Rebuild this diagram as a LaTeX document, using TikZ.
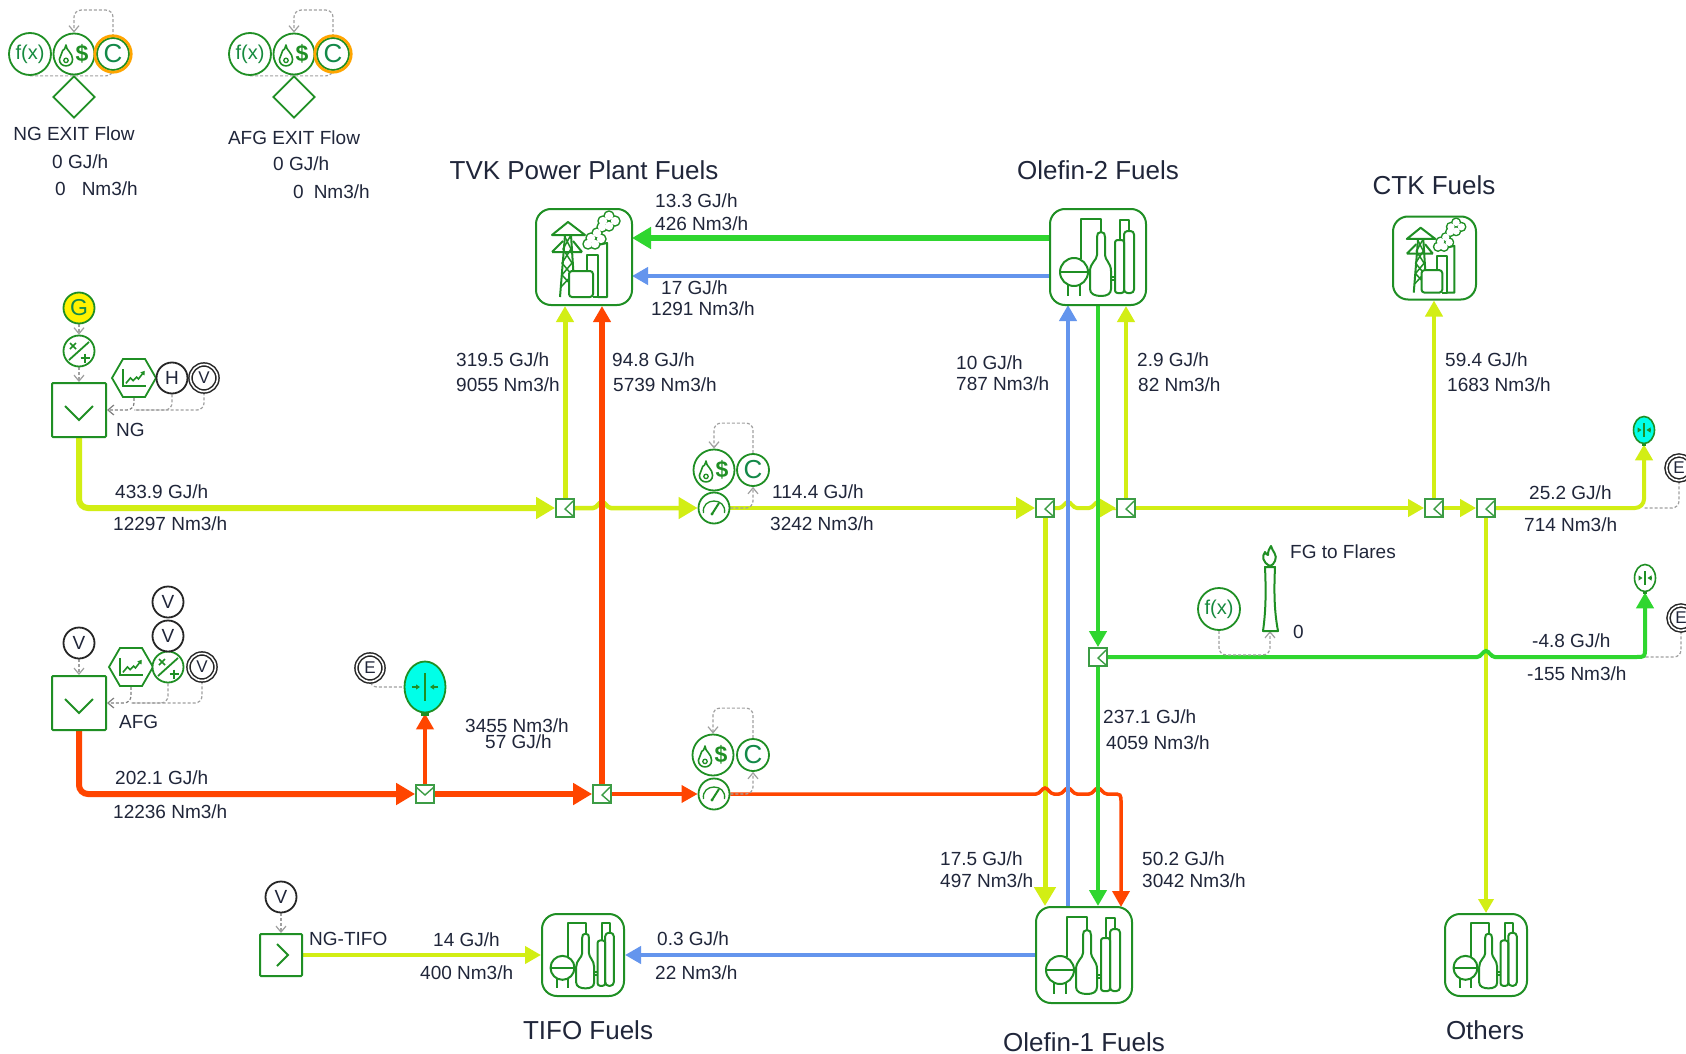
\documentclass[tikz,border=0pt]{standalone}
\usepackage{fontspec}
\setmainfont{Liberation Sans}
\usetikzlibrary{arrows.meta,shapes.geometric,backgrounds}
\definecolor{plant}{HTML}{1F8F24}
\definecolor{splitc}{HTML}{3C9C45}
\definecolor{ylw}{HTML}{D2EE14}
\definecolor{red2}{HTML}{FF4500}
\definecolor{grn}{HTML}{2FD62F}
\definecolor{blu}{HTML}{6495ED}
\definecolor{ink}{HTML}{20263A}
\definecolor{ringo}{HTML}{FFA500}
\definecolor{dashg}{HTML}{A0A0A0}
\definecolor{cyanv}{HTML}{00FFE8}
\newcommand{\labfont}{\fontsize{19}{21}\selectfont}
\newcommand{\titfont}{\fontsize{26}{28}\selectfont}
\newcommand{\hopat}[2]{-- (#1-9,#2) .. controls (#1-5,#2) and (#1-3,#2-6) .. (#1,#2-6) .. controls (#1+3,#2-6) and (#1+5,#2) .. (#1+9,#2)}
\newcommand{\lb}[4]{\node[lbl] (#1) at (#2,#3) {#4};}
\tikzset{
  lbl/.style={font=\labfont,text=ink,inner sep=0pt,anchor=west,text height=12pt,text depth=0pt},
  clab/.style={lbl,anchor=center},
  tit/.style={font=\titfont,text=ink,inner sep=0pt,anchor=center},
  unitbox/.style={draw=plant,line width=2pt,rounded corners=15pt,minimum size=#1,inner sep=0pt,fill=white},
  srcbox/.style={draw=plant,line width=2pt,rounded corners=1pt,minimum size=#1,inner sep=0pt,fill=white},
  splitbox/.style={draw=splitc,line width=1.8pt,minimum size=18pt,inner sep=0pt,fill=white},
  gcirc/.style={circle,draw=plant,line width=1.8pt,inner sep=0pt,minimum size=#1,fill=white,text=plant},
  kcirc/.style={circle,draw=black!85,line width=1.8pt,inner sep=0pt,minimum size=#1,fill=white,text=ink,font=\fontsize{19}{20}\selectfont},
  dcirc/.style={circle,draw=black!85,line width=1.5pt,double=white,double distance=1.6pt,inner sep=0pt,minimum size=#1,fill=white,text=ink,font=\fontsize{17}{18}\selectfont},
  fxc/.style={gcirc=42pt,font=\fontsize{20}{22}\selectfont,text=plant!70!teal},
  cstc/.style={gcirc=#1,font=\fontsize{26}{28}\selectfont,text=plant!60!teal},
  dolc/.style={gcirc=41pt,font=\bfseries\fontsize{23}{24}\selectfont},
  hexn/.style={regular polygon,regular polygon sides=6,draw=plant,line width=1.8pt,minimum size=44pt,inner sep=0pt,fill=white},
  icon/.style={draw=plant,line width=2pt,line join=round},
  bigtip/.style={-{Triangle[length=19pt,width=21pt]}},
  midtip/.style={-{Triangle[length=16pt,width=17pt]}},
  smalltip/.style={-{Triangle[length=14pt,width=15pt]}},
  flowy/.style={draw=ylw,line width=#1,rounded corners=9pt},
  flowr/.style={draw=red2,line width=#1,rounded corners=9pt},
  flowg/.style={draw=grn,line width=#1,rounded corners=9pt},
  flowb/.style={draw=blu,line width=#1},
  dashc/.style={draw=dashg,line width=1.2pt,dash pattern=on 3pt off 2pt,rounded corners=7pt,-{Straight Barb[length=6pt,width=10pt]}},
  dashn/.style={draw=dashg,line width=1.2pt,dash pattern=on 3pt off 2pt,rounded corners=7pt},
  refinery/.pic={
    \draw[icon] (-24,15) circle (14);
    \draw[icon] (-38,15)--(-10,15) (-30,28)--(-30,39) (-18,28)--(-18,39);
    \draw[icon] (-17,2)--(-17,-38)--(3,-38)--(3,-25);
    \draw[icon] (3,-25) .. controls (0,-25) and (-1,-23) .. (-1,-20) -- (-1,-2) .. controls (-1,3) and (-8,6) .. (-8,14) -- (-8,32) .. controls (-8,37) and (-3,39) .. (3,39) .. controls (9,39) and (13,37) .. (13,32) -- (13,14) .. controls (13,6) and (7,3) .. (7,-2) -- (7,-20) .. controls (7,-23) and (6,-25) .. (3,-25) -- cycle;
    \draw[icon] (13,20)--(17,20) (13,23)--(17,23);
    \draw[icon] (22,-17)--(22,-37)--(31,-37)--(31,-26);
    \draw[icon,rounded corners=2.5pt] (17,-17) rectangle (26,36);
    \draw[icon,rounded corners=3.5pt] (26,-26) rectangle (36,36);
  },
  powerplant/.pic={
    \draw[icon] (-24,40)--(-19,-22) (-9,40)--(-13,-22);
    \draw[icon] (-32,-22)--(-16,-35)--(1,-22)--cycle;
    \draw[icon] (-32,-5)--(-21,-16) (-2,-5)--(-11,-16) (-32,-5)--(-2,-5);
    \draw[icon,line width=1.5pt] (-23,30)--(-12,18)--(-22,6)--(-13,-8)--(-20,-22) (-11,30)--(-22,18)--(-12,6)--(-21,-8)--(-13,-22);
    \draw[icon,fill=white,rounded corners=3pt] (-15,40)--(-15,14)--(9,14)--(9,40)--cycle;
    \draw[icon] (3,14)--(3,-2)--(14,-2)--(14,40)--(9,40);
    \draw[icon] (14,-12)--(23,-14)--(23,40)--(14,40);
    \foreach \p/\q in {19/-36,25/-41,31/-36,25/-31,18/-30,7/-19,13/-24,17/-18,11/-13,4/-13}
      \draw[icon,line width=2.6pt] (\p,\q) circle (4.4);
    \foreach \p/\q in {19/-36,25/-41,31/-36,25/-31,18/-30,7/-19,13/-24,17/-18,11/-13,4/-13}
      \fill[white] (\p,\q) circle (4.2);
  },
  flameic/.pic={
    \draw[draw=plant,line width=1.6pt,line join=round] (0,-10) .. controls (0,-5) and (6,-3) .. (6,3) .. controls (6,7) and (3,9) .. (0,9) .. controls (-3,9) and (-6,7) .. (-6,3) .. controls (-6,0) and (-3,-2) .. (-3,-5) .. controls (-1.5,-5) and (-1,-7) .. (0,-10) -- cycle;
    \draw[draw=plant,line width=1.3pt] (0,4) circle (2);
  },
  trendic/.pic={
    \draw[draw=plant,line width=1.6pt] (-12,-10)--(-12,9)--(13,9);
    \draw[draw=plant,line width=1.6pt,-{Triangle[length=4pt,width=5pt]}] (-9,6)--(-4,0)--(-1,3)--(3,-1)--(5,1)--(12,-8);
  },
  muldiv/.pic={
    \draw[draw=plant,line width=1.8pt] (-10,9)--(10,-9);
    \draw[draw=plant,line width=1.6pt] (-9,-8)--(-3,-2) (-9,-2)--(-3,-8);
    \draw[draw=plant,line width=1.6pt] (1.5,7)--(11,7) (6,2.5)--(6,11.5);
  },
  gaugeic/.pic={
    \draw[draw=plant,line width=1.3pt] (-10.5,5) .. controls (-13,-11) and (13,-11) .. (10.5,5);
    \draw[draw=plant,line width=2pt] (-2,6)--(5,-5);
    \fill[plant] (-2,6) circle (1.6);
  },
  valveic/.pic={
    \draw[draw=plant,line width=2.6pt] (0,-14)--(0,14);
    \draw[draw=plant,line width=1.5pt,-{Triangle[length=4pt,width=5pt]}] (-13,0)--(-5,0);
    \draw[draw=plant,line width=1.5pt,-{Triangle[length=4pt,width=5pt]}] (13,0)--(5,0);
  },
  splitl/.pic={\draw[draw=splitc,line width=1.4pt] (8,-7)--(0,1)--(8,8);},
  splitv/.pic={\draw[draw=splitc,line width=1.4pt] (-9,-7)--(0,1)--(9,-7);},
}
\begin{document}
\begin{tikzpicture}[x=1pt,y=-1pt]
\useasboundingbox (0,0) rectangle (1686,1054);
% ---- units
\node[unitbox=96pt] (tvk) at (584,257) {};
\node[unitbox=96pt] (ol2) at (1098,257) {};
\node[unitbox=83pt] (ctk) at (1434.5,258) {};
\node[unitbox=82pt] (tifo) at (583,955) {};
\node[unitbox=96pt] (ol1) at (1084,955) {};
\node[unitbox=82pt] (oth) at (1486,955) {};
\pic at (tvk) {powerplant};
\pic[scale=.865] at (ctk) {powerplant};
\pic at (ol2) {refinery};
\pic at (ol1) {refinery};
\pic[scale=.855] at (tifo) {refinery};
\pic[scale=.855] at (oth) {refinery};
% ---- NG exit group
\node[fxc] (ngf) at (30,54) {f(x)};
\node[dolc] (ngd) at (74,54) {\kern16pt\$};
\pic[scale=1.1] at (66,56) {flameic};
\node[cstc=32pt] (ngc) at (113,54) {C};
\draw[draw=ringo,line width=2.8pt] (ngc) circle (18.2pt);
\node[diamond,draw=plant,line width=1.8pt,minimum size=42pt,inner sep=0pt] (ngx) at (74,97) {};
\node[anchor=center,clab] (t1) at (74,134) {NG EXIT Flow};
\lb{t2}{52}{162}{0 GJ/h}
\lb{t3}{55}{189}{0\hspace*{16pt}Nm3/h}
% ---- AFG exit group
\node[fxc] (af) at (250,54) {f(x)};
\node[dolc] (ad) at (294,54) {\kern16pt\$};
\pic[scale=1.1] at (286,56) {flameic};
\node[cstc=32pt] (ac) at (333,54) {C};
\draw[draw=ringo,line width=2.8pt] (ac) circle (18.2pt);
\node[diamond,draw=plant,line width=1.8pt,minimum size=42pt,inner sep=0pt] (ax) at (294,97) {};
\node[clab] (t4) at (294,138) {AFG EXIT Flow};
\lb{t5}{273}{164}{0 GJ/h}
\lb{t6}{293}{192}{0\hspace*{10pt}Nm3/h}
% ---- NG source
\node[srcbox=54pt] (ng) at (79,410) {};
\draw[draw=plant,line width=1.8pt] (65,406)--(79,420)--(93,406);
\node[gcirc=31pt,fill=yellow,font=\fontsize{23}{24}\selectfont,text=plant!60!teal] (gg) at (79,308) {G};
\node[gcirc=31pt] (mdn) at (79,351) {};
\pic at (mdn) {muldiv};
\node[hexn] (hexng) at (134,378) {};
\pic[scale=.9] at (hexng) {trendic};
\node[kcirc=31pt] (hh) at (172,378) {H};
\node[dcirc=27pt] (vn) at (204,378) {V};
\node[lbl] (tng) at (116,430) {NG};
% ---- AFG source
\node[srcbox=54pt] (afg) at (79,703) {};
\draw[draw=plant,line width=1.8pt] (65,699)--(79,713)--(93,699);
\node[kcirc=31pt] (va) at (79,643) {V};
\node[hexn] (hexaf) at (131,667) {};
\pic[scale=.9] at (hexaf) {trendic};
\node[gcirc=31pt] (mda) at (168,667) {};
\pic at (mda) {muldiv};
\node[dcirc=27pt] (vb) at (202,667) {V};
\node[kcirc=31pt] (vc) at (168,602) {V};
\node[kcirc=31pt] (vd) at (168,636) {V};
\node[lbl] (taf) at (119,722) {AFG};
% ---- NG-TIFO source
\node[srcbox=42pt] (ngt) at (281,955) {};
\draw[draw=plant,line width=1.8pt] (277,944)--(288,955)--(277,966);
\node[kcirc=31pt] (vt) at (281,897) {V};
% ---- splitters
\node[splitbox] (s1) at (565,508) {};  \pic at (s1) {splitl};
\node[splitbox] (s2) at (1045,508) {}; \pic at (s2) {splitl};
\node[splitbox] (s3) at (1126,508) {}; \pic at (s3) {splitl};
\node[splitbox] (s4) at (1434,508) {}; \pic at (s4) {splitl};
\node[splitbox] (s5) at (1486,508) {}; \pic at (s5) {splitl};
\node[splitbox] (s6) at (1098,657) {}; \pic at (s6) {splitl};
\node[splitbox] (s7) at (425,794) {};  \pic at (s7) {splitv};
\node[splitbox] (s8) at (602,794) {};  \pic at (s8) {splitl};
% ---- gauges with cost blocks
\node[gcirc=31pt] (g1) at (714,508) {}; \pic at (g1) {gaugeic};
\node[dolc] (d1) at (714,470) {\kern16pt\$};
\pic[scale=1.1] at (706,472) {flameic};
\node[cstc=32pt] (c1) at (753,470) {C};
\node[gcirc=31pt] (g2) at (714,794) {}; \pic at (g2) {gaugeic};
\node[dolc] (d2) at (713,755) {\kern16pt\$};
\pic[scale=1.1] at (705,757) {flameic};
\node[cstc=32pt] (c2) at (753,755) {C};
% ---- valves
\node[ellipse,draw=plant,line width=1.8pt,fill=cyanv,minimum width=41pt,minimum height=51pt,inner sep=0pt] (v1) at (425,687) {};
\pic at (v1) {valveic};
\fill[plant] (421,712) rectangle (429,716);
\node[dcirc=27pt] (e1) at (370,668) {E};
\node[ellipse,draw=plant,line width=1.6pt,fill=cyanv,minimum width=21pt,minimum height=27pt,inner sep=0pt] (v2) at (1644,430) {};
\pic[scale=.5] at (v2) {valveic};
\fill[plant] (1642,443) rectangle (1646,446);
\node[dcirc=25pt] (e2) at (1679,468) {E};
\node[ellipse,draw=plant,line width=1.6pt,fill=white,minimum width=21pt,minimum height=27pt,inner sep=0pt] (v3) at (1645,578) {};
\pic[scale=.5] at (v3) {valveic};
\fill[plant] (1643,591) rectangle (1647,594);
\node[dcirc=25pt] (e3) at (1681,618) {E};
% ---- flare
\node[fxc] (ffx) at (1219,609) {f(x)};
\coordinate (flare) at (1270,631);
\draw[icon] (1263,631)--(1278,631) .. controls (1274,610) and (1274,590) .. (1275,567)--(1265,567) .. controls (1266,590) and (1266,610) .. (1263,631)--cycle;
\draw[icon] (1270,566) .. controls (1262,562) and (1262,556) .. (1265,552) .. controls (1266,554) and (1267,555) .. (1268,555) .. controls (1268,551) and (1269,549) .. (1271,546) .. controls (1272,551) and (1278,555) .. (1275,561) .. controls (1274,564) and (1272,565) .. (1270,566)--cycle;
% ---- titles
\node[tit] (tt1) at (584,170) {TVK Power Plant Fuels};
\node[tit] (tt2) at (1098,170) {Olefin-2 Fuels};
\node[tit] (tt3) at (1434,185) {CTK Fuels};
\node[tit] (tt4) at (588,1030) {TIFO Fuels};
\node[tit] (tt5) at (1084,1042) {Olefin-1 Fuels};
\node[tit] (tt6) at (1485,1030) {Others};
% ---- labels
\lb{l1}{655}{201}{13.3 GJ/h}
\lb{l2}{655}{224}{426 Nm3/h}
\lb{l3}{661}{288}{17 GJ/h}
\lb{l4}{651}{309}{1291 Nm3/h}
\lb{l5}{456}{360}{319.5 GJ/h}
\lb{l6}{456}{385}{9055 Nm3/h}
\lb{l7}{612}{360}{94.8 GJ/h}
\lb{l8}{613}{385}{5739 Nm3/h}
\lb{l9}{956}{363}{10 GJ/h}
\lb{l10}{956}{384}{787 Nm3/h}
\lb{l11}{1137}{360}{2.9 GJ/h}
\lb{l12}{1138}{385}{82 Nm3/h}
\lb{l13}{1445}{360}{59.4 GJ/h}
\lb{l14}{1447}{385}{1683 Nm3/h}
\lb{l15}{115}{492}{433.9 GJ/h}
\lb{l16}{113}{524}{12297 Nm3/h}
\lb{l17}{772}{492}{114.4 GJ/h}
\lb{l18}{770}{524}{3242 Nm3/h}
\lb{l19}{1529}{493}{25.2 GJ/h}
\lb{l20}{1524}{525}{714 Nm3/h}
\lb{l21}{1532}{641}{-4.8 GJ/h}
\lb{l22}{1527}{674}{-155 Nm3/h}
\lb{l23}{1103}{717}{237.1 GJ/h}
\lb{l24}{1106}{743}{4059 Nm3/h}
\lb{l25}{115}{778}{202.1 GJ/h}
\lb{l26}{113}{812}{12236 Nm3/h}
\lb{l27}{465}{726}{3455 Nm3/h}
\lb{l28}{485}{742}{57 GJ/h}
\lb{l29}{940}{859}{17.5 GJ/h}
\lb{l30}{940}{881}{497 Nm3/h}
\lb{l31}{1142}{859}{50.2 GJ/h}
\lb{l32}{1142}{881}{3042 Nm3/h}
\lb{l33}{309}{939}{NG-TIFO}
\lb{l34}{433}{940}{14 GJ/h}
\lb{l35}{420}{973}{400 Nm3/h}
\lb{l36}{657}{939}{0.3 GJ/h}
\lb{l37}{655}{973}{22 Nm3/h}
\lb{l38}{1290}{552}{FG to Flares}
\lb{l39}{1293}{632}{0}
% ---- connectors
\coordinate (bluol1) at (1068,907);
\coordinate (bluol2) at (1068,305);
\coordinate (grnt) at (632,238);
\coordinate (grnf) at (1050,238);
\coordinate (blut) at (632,276);
\coordinate (bluf) at (1050,276);
\coordinate (ng1) at (1644,508);
\coordinate (ng2) at (1645,657);
\coordinate (rc1) at (1112,794);
\coordinate (rc2) at (1121,794);
\coordinate (rc3) at (1121,803);
\coordinate (rc4) at (1121,907);
\coordinate (gc1) at (1636,657);
\coordinate (gc2) at (1645,648);
\begin{scope}[on background layer]
\fill[white] (0,0) rectangle (1686,1054);
% yellow
\draw[flowy=6pt,bigtip] (ng.south) |- (s1.west);
\draw[flowy=5pt,midtip] (s1.north) -- (tvk.south -| s1);
\draw[flowy=4.5pt,bigtip,sharp corners] (s1.east) \hopat{602}{508} -- (g1.west);
\draw[flowy=4.5pt,bigtip] (g1.east) -- (s2.west);
\draw[flowy=4pt,bigtip,sharp corners] (s2.east) \hopat{1068}{508} \hopat{1098}{508} -- (s3.west);
\draw[flowy=4pt,midtip] (s3.north) -- (ol2.south -| s3);
\draw[flowy=4pt,midtip] (s3.east) -- (s4.west);
\draw[flowy=4pt,midtip] (s4.north) -- (ctk.south -| s4);
\draw[flowy=4pt,midtip] (s4.east) -- (s5.west);
\draw[flowy=4pt,midtip] (s5.east) -| (v2.south);
\draw[flowy=3.5pt,smalltip] (s5.south) -- (oth.north -| s5);
\draw[flowy=5pt,bigtip] (s2.south) -- (ol1.north -| s2);
\draw[flowy=4pt,midtip] (ngt.east) -- (tifo.west);
% red
\draw[flowr=6pt,bigtip] (afg.south) |- (s7.west);
\draw[flowr=4pt,midtip] (s7.north) -- (v1.south);
\draw[flowr=6pt,bigtip] (s7.east) -- (s8.west);
\draw[flowr=6pt,midtip] (s8.north) -- (tvk.south -| s8);
\draw[flowr=3.5pt,midtip] (s8.east) -- (g2.west);
\draw[flowr=3.5pt,midtip,sharp corners] (g2.east) \hopat{1045}{794} \hopat{1068}{794} \hopat{1098}{794} -- (rc1) .. controls (rc2) .. (rc3) -- (rc4);
% green
\draw[flowg=6pt,bigtip] (grnf) -- (grnt);
\draw[flowg=4.5pt,midtip] (ol2.south) -- (s6.north);
\draw[flowg=4.5pt,midtip] (s6.south) -- (ol1.north -| s6);
\draw[flowg=4pt,midtip,sharp corners] (s6.east) \hopat{1486}{657} -- (gc1) .. controls (ng2) .. (gc2) -- (v3.south);
% blue
\draw[flowb=4pt,midtip] (bluf) -- (blut);
\draw[flowb=4pt,midtip] (bluol1) -- (bluol2);
\draw[flowb=4pt,midtip] (ol1.west) -- (tifo.east);
% dashed control links
\draw[dashc] (ngc.north) -- ++(0,-27) -| (ngd.north);
\draw[dashc] (ngf.south) -| (ngc.south);
\draw[dashc] (ac.north) -- ++(0,-27) -| (ad.north);
\draw[dashc] (af.south) -| (ac.south);
\draw[dashc] (gg.south) -- (mdn.north);
\draw[dashc] (mdn.south) -- (ng.north);
\draw[dashn] (vn.south) |- (hexng |- ng);
\draw[dashn] (hh.south) |- (hexng |- ng);
\draw[dashc,draw=gray] (hexng.south) |- (ng.east);
\draw[dashc] (va.south) -- (afg.north);
\draw[dashn] (vb.south) |- (hexaf |- afg);
\draw[dashn] (mda.south) |- (hexaf |- afg);
\draw[dashc,draw=gray] (hexaf.south) |- (afg.east);
\draw[dashc] (vt.south) -- (ngt.north);
\draw[dashc] (c1.north) -- ++(0,-30) -| (d1.north);
\draw[dashc] (g1.east) -| (c1.south);
\draw[dashc] (c2.north) -- ++(0,-30) -| (d2.north);
\draw[dashc] (g2.east) -| (c2.south);
\draw[dashn] (e1.south) |- (v1.west);
\draw[dashn] (e2.south) |- (ng1);
\draw[dashn] (e3.south) |- (ng2);
\draw[dashc] (ffx.south) -- ++(0,24) -| (flare);
\end{scope}
\end{tikzpicture}
\end{document}
